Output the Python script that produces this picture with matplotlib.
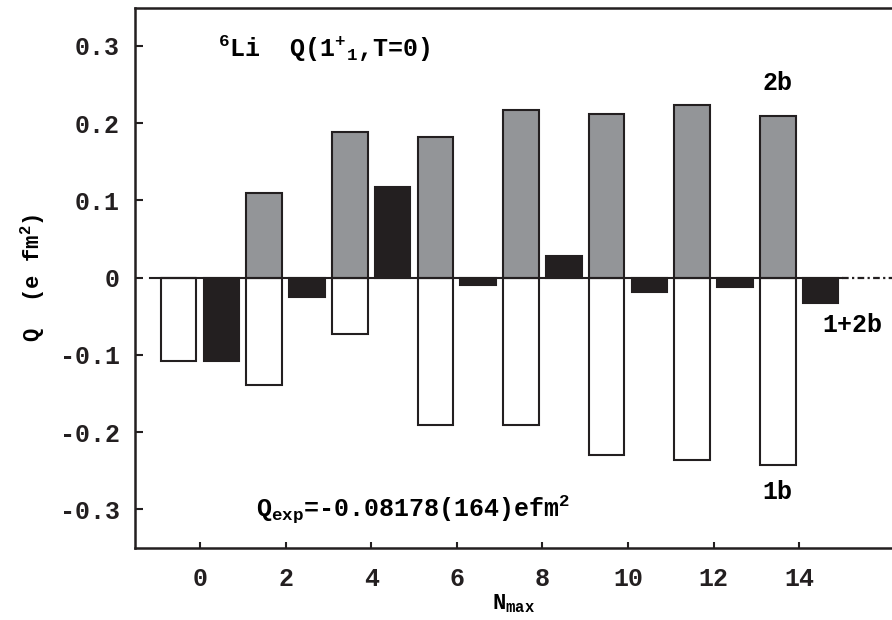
import numpy as np
import matplotlib
matplotlib.use("Agg")
import matplotlib.pyplot as plt

# Data
nmax = np.array([0, 2, 4, 6, 8, 10, 12, 14])
q_1b = [-0.108, -0.139, -0.073, -0.191, -0.191, -0.229, -0.236, -0.242]
q_2b = [0.0, 0.110, 0.189, 0.182, 0.217, 0.212, 0.223, 0.209]
q_tot = [-0.108, -0.025, 0.117, -0.009, 0.028, -0.019, -0.012, -0.033]

plt.rcParams['font.family'] = ['Liberation Mono', 'DejaVu Sans Mono']
plt.rcParams['font.weight'] = 'bold'
plt.rcParams['mathtext.default'] = 'regular'

fig = plt.figure(figsize=(8.92, 6.2), dpi=100)
ax = fig.add_axes([135 / 892, 1 - 548 / 620, 1 - 135 / 892, (548 - 8) / 620])

w = 0.83
ax.bar(nmax - 0.5, q_1b, width=w, color='white', edgecolor='#231f20', linewidth=1.5, zorder=2)
ax.bar(nmax - 0.5, q_2b, width=w, color='#939598', edgecolor='#231f20', linewidth=1.5, zorder=2)
ax.bar(nmax + 0.5, q_tot, width=w, color='#231f20', edgecolor='#231f20', linewidth=1.5, zorder=2)

# zero line
ax.plot([-1.17, 15.0], [0, 0], color='#231f20', lw=1.5, zorder=3)
ax.plot([15.0, 16.2], [0, 0], color='#231f20', lw=1.6, ls=(0, (3, 1.5, 1, 1.5)), zorder=3)

ax.set_xlim(-1.52, 16.17)
ax.set_ylim(-0.35, 0.349)
ax.set_xticks(nmax)
ax.set_yticks([-0.3, -0.2, -0.1, 0, 0.1, 0.2, 0.3])
ax.set_yticklabels(['-0.3', '-0.2', '-0.1', '0', '0.1', '0.2', '0.3'])
ax.tick_params(direction='in', length=6, width=1.5, labelsize=18, colors='#231f20')
ax.tick_params(axis='y', pad=11)
ax.tick_params(axis='x', length=4, pad=14)
for s in ['left', 'bottom', 'top']:
    ax.spines[s].set_linewidth(1.8)
    ax.spines[s].set_color('#231f20')
ax.spines['right'].set_visible(False)

ax.set_xlabel(r'N$_{max}$', fontsize=16, fontweight='bold', labelpad=1)
ax.set_ylabel(r'Q  (e fm$^{2}$)', fontsize=16, fontweight='bold', labelpad=9)

ax.text(0.42, 0.297, r'$^{6}$Li  Q(1$^{+}$$_{1}$,T=0)',
        fontsize=18, va='center', ha='left')
ax.text(13.5, 0.252, '2b', fontsize=18, ha='center', va='center')
ax.text(15.25, -0.061, '1+2b', fontsize=18, ha='center', va='center')
ax.text(13.5, -0.278, '1b', fontsize=18, ha='center', va='center')
ax.text(1.3, -0.30, r'Q$_{exp}$=-0.08178(164)efm$^{2}$',
        fontsize=18, ha='left', va='center')

fig.savefig('out.png', dpi=100)
